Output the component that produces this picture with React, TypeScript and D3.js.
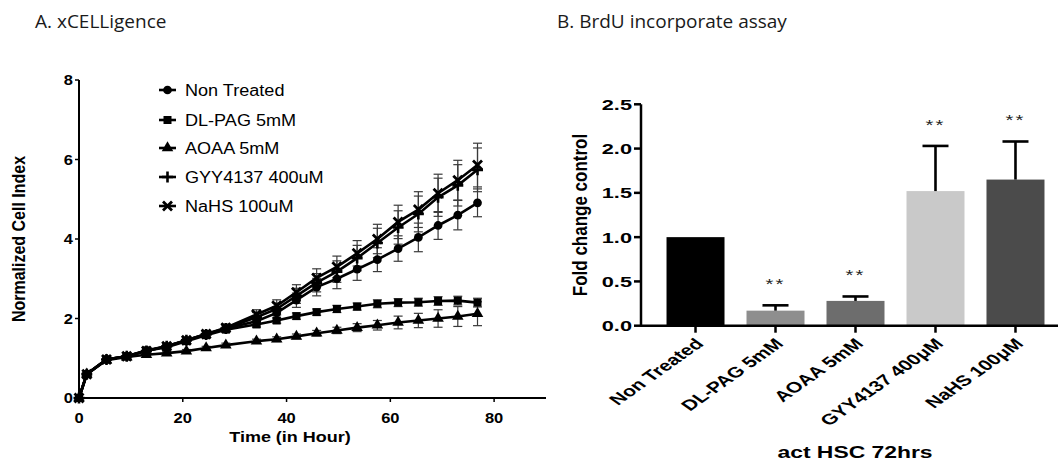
import React from "react";
import * as d3 from "d3";

// ---- A. xCELLigence (time course) ----
const hours = [0, 1.5, 5.3, 9.2, 13, 16.9, 20.7, 24.5, 28.3, 34.2, 38.1, 41.9, 45.8, 49.7, 53.6, 57.5, 61.5, 65.4, 69.2, 73, 76.8];

const nonTreated = [0, 0.6, 0.97, 1.05, 1.2, 1.3, 1.45, 1.61, 1.75, 1.93, 2.14, 2.46, 2.79, 3.0, 3.24, 3.48, 3.76, 4.04, 4.34, 4.6, 4.91];
const nonTreatedSd = [0, 0.03, 0.03, 0.04, 0.05, 0.05, 0.06, 0.07, 0.08, 0.12, 0.15, 0.18, 0.22, 0.25, 0.28, 0.3, 0.32, 0.36, 0.35, 0.37, 0.35];
const dlPag = [0, 0.6, 0.97, 1.05, 1.19, 1.28, 1.43, 1.58, 1.72, 1.85, 1.95, 2.06, 2.16, 2.24, 2.3, 2.37, 2.4, 2.41, 2.44, 2.45, 2.4];
const dlPagSd = [0, 0.03, 0.03, 0.04, 0.05, 0.05, 0.05, 0.06, 0.06, 0.07, 0.07, 0.08, 0.08, 0.09, 0.09, 0.1, 0.1, 0.1, 0.11, 0.11, 0.11];
const aoaa = [0, 0.6, 0.95, 1.03, 1.09, 1.13, 1.18, 1.26, 1.33, 1.43, 1.48, 1.55, 1.63, 1.7, 1.77, 1.83, 1.9, 1.95, 2.0, 2.05, 2.12];
const aoaaSd = [0, 0.02, 0.03, 0.03, 0.03, 0.04, 0.04, 0.04, 0.05, 0.05, 0.06, 0.06, 0.07, 0.08, 0.1, 0.12, 0.16, 0.18, 0.22, 0.25, 0.3];
const gyy = [0, 0.6, 0.97, 1.05, 1.18, 1.3, 1.45, 1.6, 1.75, 2.03, 2.24, 2.57, 2.9, 3.18, 3.52, 3.9, 4.29, 4.63, 5.05, 5.35, 5.74];
const gyySd = [0, 0.03, 0.03, 0.04, 0.05, 0.05, 0.06, 0.07, 0.09, 0.12, 0.15, 0.19, 0.23, 0.27, 0.32, 0.37, 0.42, 0.45, 0.48, 0.52, 0.55];
const nahs = [0, 0.6, 0.97, 1.05, 1.18, 1.3, 1.45, 1.61, 1.77, 2.1, 2.32, 2.66, 3.02, 3.3, 3.64, 4.0, 4.43, 4.74, 5.15, 5.48, 5.86];
const nahsSd = [0, 0.03, 0.03, 0.04, 0.05, 0.05, 0.06, 0.07, 0.09, 0.12, 0.15, 0.19, 0.23, 0.27, 0.32, 0.37, 0.42, 0.45, 0.48, 0.5, 0.55];

const seriesNames = ["Non Treated", "DL-PAG 5mM", "AOAA 5mM", "GYY4137 400uM", "NaHS 100uM"];
const seriesMarkers = ["circle", "square", "triangle", "plus", "times"];

const xTicksA = [0, 20, 40, 60, 80];
const yTicksA = [0, 2, 4, 6, 8];

// ---- B. BrdU ----
const barCategories = ["Non Treated", "DL-PAG 5mM", "AOAA 5mM", "GYY4137 400\u03bcM", "NaHS 100\u03bcM"];
const barValues = [1.0, 0.17, 0.28, 1.52, 1.65];
const barErrors = [0, 0.06, 0.05, 0.51, 0.43];
const barStars = ["", "**", "**", "**", "**"];
const barColors = ["#000000", "#8e8e8e", "#6d6d6d", "#c9c9c9", "#4b4b4b"];
const yTicksB = [0, 0.5, 1.0, 1.5, 2.0, 2.5];

const bold = "'Liberation Sans', Arial, sans-serif";

function Marker({ kind, x, y }: { kind: string; x: number; y: number }) {
  const t = `translate(${x},${y})`;
  if (kind === "plus")
    return <path transform={t} d="M-5.5,0H5.5M0,-5.5V5.5" stroke="#000" strokeWidth={2.6} />;
  if (kind === "times")
    return <path transform={t} d="M-4.5,-4.5L4.5,4.5M-4.5,4.5L4.5,-4.5" stroke="#000" strokeWidth={2.8} />;
  const type = kind === "circle" ? d3.symbolCircle : kind === "square" ? d3.symbolSquare : d3.symbolTriangle;
  const size = kind === "circle" ? 60 : kind === "square" ? 64 : 58;
  return <path transform={t} d={d3.symbol().type(type).size(size)() || ""} fill="#000" />;
}

function PanelA() {
  const x = d3.scaleLinear().domain([0, 90]).range([79, 546]);
  const y = d3.scaleLinear().domain([0, 8]).range([398, 80]);
  const series = [nonTreated, dlPag, aoaa, gyy, nahs];
  const sds = [nonTreatedSd, dlPagSd, aoaaSd, gyySd, nahsSd];
  const line = d3
    .line<number>()
    .x((_, i) => x(hours[i]))
    .y((d) => y(d));
  const legendY = [90, 120, 148, 177, 206];

  return (
    <g>
      <text x={35} y={28} fontFamily="'Open Sans', sans-serif" fontSize={19} fill="#1a1a1a">A. xCELLigence</text>

      {/* error bars */}
      {series.map((s, si) =>
        s.map((v, i) => {
          const e = sds[si][i];
          if (!e) return null;
          const cx = x(hours[i]);
          return (
            <g key={`e${si}-${i}`} stroke="#3a3a3a" strokeWidth={1.2}>
              <line x1={cx} x2={cx} y1={y(v + e)} y2={y(v - e)} />
              <line x1={cx - 4.5} x2={cx + 4.5} y1={y(v + e)} y2={y(v + e)} />
              <line x1={cx - 4.5} x2={cx + 4.5} y1={y(v - e)} y2={y(v - e)} />
            </g>
          );
        })
      )}

      {series.map((s, si) => (
        <path key={`l${si}`} d={line(s) || ""} fill="none" stroke="#000" strokeWidth={2.6} />
      ))}
      {series.map((s, si) =>
        s.map((v, i) => <Marker key={`m${si}-${i}`} kind={seriesMarkers[si]} x={x(hours[i])} y={y(v)} />)
      )}

      {/* axes */}
      <line x1={x(0)} x2={x(0)} y1={y(0) + 1} y2={y(8)} stroke="#000" strokeWidth={2} />
      <line x1={x(0)} x2={x(90)} y1={y(0)} y2={y(0)} stroke="#000" strokeWidth={2} />
      {yTicksA.map((t) => (
        <g key={`yt${t}`}>
          <line x1={x(0) - 4} x2={x(0)} y1={y(t)} y2={y(t)} stroke="#000" strokeWidth={1.5} />
          <text transform={`translate(${x(0) - 6},${y(t)}) scale(1.1,1)`} dy="0.36em" textAnchor="end" fontFamily={bold} fontWeight="bold" fontSize={15}>{t}</text>
        </g>
      ))}
      {xTicksA.map((t) => (
        <g key={`xt${t}`}>
          <line x1={x(t)} x2={x(t)} y1={y(0)} y2={y(0) + 4} stroke="#000" strokeWidth={1.5} />
          <text transform={`translate(${x(t)},${y(0) + 20}) scale(1.1,1)`} dy="0.36em" textAnchor="middle" fontFamily={bold} fontWeight="bold" fontSize={15}>{t}</text>
        </g>
      ))}
      <text transform="translate(19,239) scale(1.1,1) rotate(-90)" textAnchor="middle" dy="0.36em" fontFamily={bold} fontWeight="bold" fontSize={16}>Normalized Cell Index</text>
      <text transform="translate(290,437) scale(1.2,1)" dy="0.36em" textAnchor="middle" fontFamily={bold} fontWeight="bold" fontSize={15}>Time (in Hour)</text>

      {/* legend */}
      {seriesNames.map((n, i) => (
        <g key={`lg${i}`}>
          <line x1={159} x2={176} y1={legendY[i]} y2={legendY[i]} stroke="#000" strokeWidth={2.6} />
          <Marker kind={seriesMarkers[i]} x={167.5} y={legendY[i]} />
          <text transform={`translate(185,${legendY[i]}) scale(1.13,1)`} dy="0.36em" fontFamily={bold} fontSize={16}>{n}</text>
        </g>
      ))}
    </g>
  );
}

function PanelB() {
  const x = d3.scaleBand<string>().domain(barCategories).range([641, 1070]).paddingInner(0.275).paddingOuter(0.319);
  const y = d3.scaleLinear().domain([0, 2.5]).range([325.7, 104.3]);
  const sx = 1.45;

  return (
    <g>
      <text x={557} y={28} fontFamily="'Open Sans', sans-serif" fontSize={19} fill="#1a1a1a">B. BrdU incorporate assay</text>

      {barCategories.map((c, i) => {
        const bx = x(c) as number;
        const cx = bx + x.bandwidth() / 2;
        const top = y(barValues[i] + barErrors[i]);
        return (
          <g key={c}>
            <rect x={bx} y={y(barValues[i])} width={x.bandwidth()} height={y(0) - y(barValues[i])} fill={barColors[i]} />
            {barErrors[i] > 0 && (
              <g stroke="#000" strokeWidth={2.6}>
                <line x1={cx} x2={cx} y1={y(barValues[i])} y2={top} />
                <line x1={cx - 13} x2={cx + 13} y1={top} y2={top} />
              </g>
            )}
            {barStars[i] && (
              <text transform={`translate(${cx},${top - 16}) scale(${sx},1)`} textAnchor="middle" fontFamily={bold} fontSize={14} letterSpacing={1.5} fill="#222">{barStars[i]}</text>
            )}
            <line x1={cx} x2={cx} y1={y(0)} y2={y(0) + 7} stroke="#000" strokeWidth={2.5} />
            <text transform={`translate(${cx + 9},${y(0) + 19}) scale(1.41,1) rotate(-45)`} textAnchor="end" fontFamily={bold} fontWeight="bold" fontSize={15}>{c}</text>
          </g>
        );
      })}

      <line x1={641} x2={641} y1={y(0) + 1} y2={y(2.5)} stroke="#000" strokeWidth={2.5} />
      <line x1={641} x2={1058} y1={y(0)} y2={y(0)} stroke="#000" strokeWidth={2.5} />
      {yTicksB.map((t) => (
        <g key={`bt${t}`}>
          <line x1={634} x2={641} y1={y(t)} y2={y(t)} stroke="#000" strokeWidth={2.5} />
          <text transform={`translate(632,${y(t)}) scale(${sx},1)`} dy="0.36em" textAnchor="end" fontFamily={bold} fontWeight="bold" fontSize={15}>{t.toFixed(1)}</text>
        </g>
      ))}
      <text transform="translate(580,215) scale(1.15,1) rotate(-90)" dy="0.36em" textAnchor="middle" fontFamily={bold} fontWeight="bold" fontSize={17}>Fold change control</text>
      <text transform={`translate(855,458) scale(1.43,1)`} textAnchor="middle" fontFamily={bold} fontWeight="bold" fontSize={16}>act HSC 72hrs</text>
    </g>
  );
}

export default function App() {
  return (
    <svg width={1058} height={468} style={{ position: "absolute", left: 0, top: 0, background: "#fff" }}>
      <rect width={1058} height={468} fill="#fff" />
      <PanelA />
      <PanelB />
    </svg>
  );
}
